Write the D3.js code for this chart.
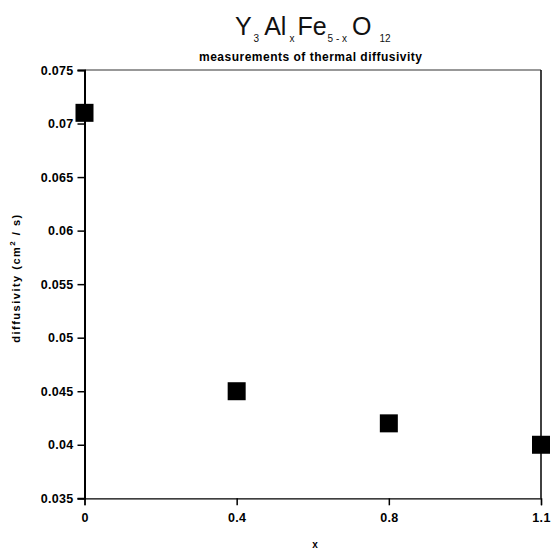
<!DOCTYPE html>
<html>
<head>
<meta charset="utf-8">
<script src="https://cdn.jsdelivr.net/npm/d3@7"></script>
<style>
body{margin:0;background:#fff;}
svg{display:block;}
</style>
</head>
<body>
<svg id="chart" width="551" height="550"></svg>
<script>
const categories = ["0", "0.4", "0.8", "1.1"];
const diffusivity = [0.071, 0.045, 0.042, 0.040];
const yTicks = [0.035, 0.04, 0.045, 0.05, 0.055, 0.06, 0.065, 0.07, 0.075];
const yTickLabels = ["0.035", "0.04", "0.045", "0.05", "0.055", "0.06", "0.065", "0.07", "0.075"];

const svg = d3.select("#chart");
const m = {left: 84.5, right: 541, top: 70, bottom: 498.3};

const x = d3.scalePoint().domain(categories).range([m.left, m.right]);
const y = d3.scaleLinear().domain([0.035, 0.075]).range([m.bottom, m.top]);

const font = "'Liberation Sans', Arial, sans-serif";

// frame top & right
svg.append("line").attr("x1", m.left).attr("x2", m.right).attr("y1", m.top).attr("y2", m.top)
  .attr("stroke", "#333").attr("stroke-width", 1.2);
svg.append("line").attr("x1", m.right).attr("x2", m.right).attr("y1", m.top).attr("y2", m.bottom)
  .attr("stroke", "#111").attr("stroke-width", 1.6);

// y axis
const yAxis = d3.axisLeft(y).tickValues(yTicks).tickFormat((d, i) => yTickLabels[i]).tickSize(7).tickPadding(4);
const gy = svg.append("g").attr("transform", `translate(${m.left},0)`).call(yAxis);
gy.select(".domain").attr("stroke", "#000").attr("stroke-width", 2);
gy.selectAll(".tick line").attr("stroke", "#000").attr("stroke-width", 1.5);
gy.selectAll(".tick text").attr("font-family", font).attr("font-size", 12.5).attr("font-weight", "bold")
  .attr("letter-spacing", 0.3).attr("fill", "#000");

// x axis
const xAxis = d3.axisBottom(x).tickSize(7).tickPadding(8);
const gx = svg.append("g").attr("transform", `translate(0,${m.bottom})`).call(xAxis);
gx.select(".domain").attr("stroke", "#000").attr("stroke-width", 1.2);
gx.selectAll(".tick line").attr("stroke", "#000").attr("stroke-width", 1.5);
gx.selectAll(".tick text").attr("font-family", font).attr("font-size", 12.5).attr("font-weight", "bold")
  .attr("letter-spacing", 0.3).attr("fill", "#000");

// points
const s = 18;
svg.append("g").selectAll("rect").data(categories).join("rect")
  .attr("x", d => x(d) - s / 2)
  .attr("y", (d, i) => y(diffusivity[i]) - s / 2)
  .attr("width", s).attr("height", s)
  .attr("fill", "#000");

// title
const cx = (m.left + m.right) / 2;
const title = svg.append("text").attr("x", cx).attr("y", 35).attr("text-anchor", "middle")
  .attr("font-family", font).attr("font-size", 25).attr("fill", "#111");
const parts = [
  ["Y", 0, 25, 0], ["3", 7, 10, 2], ["Al", -7, 25, 5], ["x", 7, 10, 3], ["Fe", -7, 25, 3],
  ["5 - x", 7, 10, 1], ["O", -7, 25, 5], ["12", 7, 10, 8]
];
parts.forEach(p => {
  title.append("tspan").text(p[0]).attr("dy", p[1]).attr("font-size", p[2]).attr("dx", p[3]);
});
svg.append("text").attr("x", cx - 2).attr("y", 61).attr("text-anchor", "middle")
  .attr("font-family", font).attr("font-size", 12).attr("font-weight", "bold").attr("letter-spacing", 0.5)
  .text("measurements of thermal diffusivity");

// axis titles
svg.append("text").attr("transform", `translate(20,278) rotate(-90)`).attr("text-anchor", "middle")
  .attr("font-family", font).attr("font-size", 11).attr("font-weight", "bold").attr("letter-spacing", 1.5)
  .html('diffusivity  (cm<tspan dy="-5" font-size="8">2</tspan><tspan dy="5"> / s)</tspan>');
svg.append("text").attr("x", 315).attr("y", 548).attr("text-anchor", "middle")
  .attr("font-family", font).attr("font-size", 10).attr("font-weight", "bold").text("x");
</script>
</body>
</html>
